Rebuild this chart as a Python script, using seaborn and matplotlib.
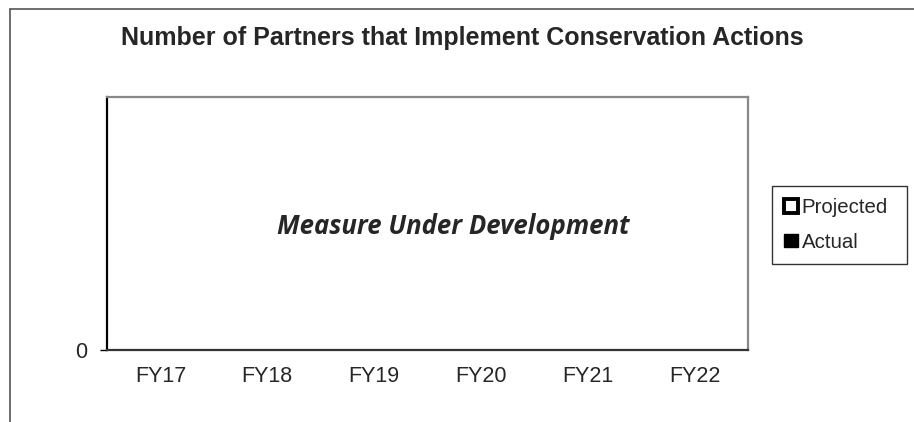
import numpy as np
import pandas as pd
import matplotlib
matplotlib.use('Agg')
import matplotlib.pyplot as plt
import seaborn as sns
from matplotlib.patches import Patch
from matplotlib.lines import Line2D

# data: measure is still under development, so no values yet
years = ['FY17', 'FY18', 'FY19', 'FY20', 'FY21', 'FY22']
projected = [0, 0, 0, 0, 0, 0]
actual = [0, 0, 0, 0, 0, 0]

df = pd.DataFrame({'year': years * 2,
                   'value': projected + actual,
                   'series': ['Projected'] * 6 + ['Actual'] * 6})

sns.set_style('white')
plt.rcParams['font.family'] = ['Liberation Sans', 'DejaVu Sans']

fig = plt.figure(figsize=(9.14, 4.22), dpi=100)
ax = fig.add_axes([107/914, 1-350/422, 641/914, 253/422])

sns.barplot(data=df, x='year', y='value', hue='series', ax=ax,
            palette={'Projected': 'white', 'Actual': 'black'},
            linewidth=0, legend=False)

ax.set_ylim(0, 1)
ax.set_xlim(-0.5, 5.5)
ax.set_yticks([0])
ax.set_yticklabels(['0'], fontsize=15.5)
ax.set_xticks(range(len(years)))
ax.set_xticklabels(years, fontsize=15.5)
ax.set_xticks(np.arange(-0.5, 6, 1), minor=True)
ax.tick_params(axis='x', which='major', length=0, pad=11.5)
ax.tick_params(axis='x', which='minor', length=4, width=1, color='black', direction='out')
ax.tick_params(axis='y', length=5, width=1, color='black', direction='out', pad=9, left=True)
ax.set_xlabel('')
ax.set_ylabel('')

for side in ['top', 'right']:
    ax.spines[side].set_color('#888888')
    ax.spines[side].set_linewidth(1.6)
ax.spines['left'].set_color('black')
ax.spines['left'].set_linewidth(1.6)
ax.spines['bottom'].set_color('#333333')
ax.spines['bottom'].set_linewidth(1.6)

ax.text(0.54, 0.49, 'Measure Under Development', transform=ax.transAxes,
        ha='center', va='center', fontsize=18.5, fontweight='bold',
        fontstyle='italic', family=['Open Sans', 'DejaVu Sans'])

fig.text(462/914, 1-38/422, 'Number of Partners that Implement Conservation Actions',
         ha='center', va='center', fontsize=18, fontweight='bold')

handles = [Patch(facecolor='white', edgecolor='black', linewidth=2.8),
           Patch(facecolor='black', edgecolor='black')]
leg = ax.legend(handles, ['Projected', 'Actual'], loc='upper left',
                bbox_to_anchor=(665/641, 0, 135/641, 164/253), mode='expand',
                frameon=True, fancybox=False,
                fontsize=14.7, handlelength=0.65, handleheight=0.65,
                handletextpad=0.2, labelspacing=0.75, borderpad=0.6,
                borderaxespad=0, edgecolor='black')
leg.get_frame().set_linewidth(1)

# outer chart-area border (top and left visible)
fig.add_artist(Line2D([9.5/914, 1], [1-8.5/422, 1-8.5/422], color='#555555', lw=1.2))
fig.add_artist(Line2D([9.5/914, 9.5/914], [0, 1-8.5/422], color='#555555', lw=1.2))

fig.savefig('out.png', dpi=100)
